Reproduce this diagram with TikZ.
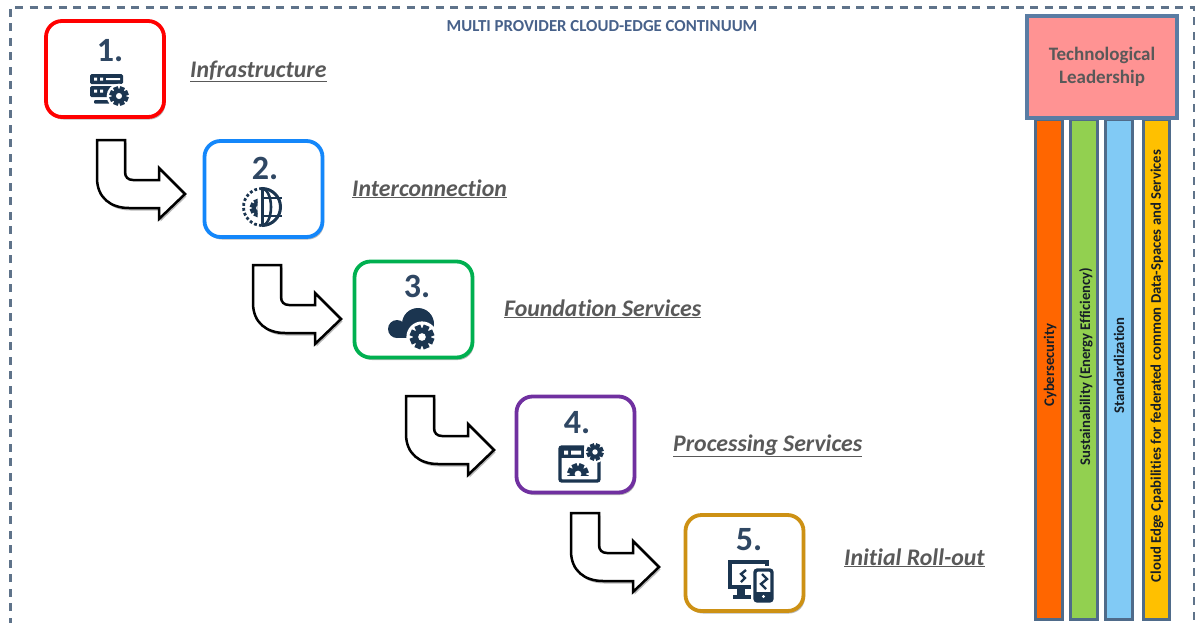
\documentclass[tikz,border=0pt]{standalone}
\usepackage{fontspec}
\setmainfont{Carlito}[Ligatures=NoCommon]
\usetikzlibrary{shadows}
\definecolor{icon}{HTML}{1B3550}
\definecolor{numc}{HTML}{2F4763}
\definecolor{frame}{HTML}{5F738A}
\definecolor{titlec}{HTML}{47618A}
\definecolor{barline}{HTML}{4F6B8A}
\definecolor{leadline}{HTML}{5A7CA3}
\definecolor{labelc}{HTML}{595959}
\definecolor{c1}{HTML}{FF6600}
\definecolor{c2}{HTML}{92D050}
\definecolor{c3}{HTML}{81CAF5}
\definecolor{c4}{HTML}{FFC000}
\definecolor{lead}{HTML}{FF9393}
\definecolor{sred}{HTML}{FF0000}
\definecolor{sblue}{HTML}{1487FA}
\definecolor{sgreen}{HTML}{00B050}
\definecolor{spurple}{HTML}{7030A0}
\definecolor{sgold}{HTML}{CD9114}
\tikzset{
  x=1pt,y=-1pt,
  softshadow/.style={drop shadow={shadow xshift=1.5pt,shadow yshift=-2.5pt,opacity=.28,fill=black}},
  stagebox/.style={draw=#1,line width=3.8pt,rounded corners=16pt,fill=white,softshadow,inner sep=0pt,minimum width=118pt,minimum height=96pt},
  stepnum/.style={font=\fontsize{34}{34}\selectfont\bfseries,text=numc,inner sep=0pt},
  steplabel/.style={font=\fontsize{23.8}{26}\selectfont\bfseries\itshape,text=labelc,anchor=base west,inner sep=0pt},
  bendarrow/.style={draw=black,line width=2.5pt,fill=white,line join=miter,softshadow},
  pillar/.style={draw=barline,line width=3pt,fill=#1,inner sep=0pt,minimum height=500pt,anchor=north,
     drop shadow={shadow xshift=.5pt,shadow yshift=-1pt,opacity=.2,fill=black}},
  pillartext/.style={rotate=90,font=\fontsize{14.7}{15}\selectfont\bfseries,inner sep=0pt,text=black!72!barline},
  bendpic/.pic={
    \path[bendarrow] (0,0) -- (28,0) -- (28,32) .. controls (28,37) and (31,40) .. (36,40)
      -- (62,40) -- (62,28) -- (88,54) -- (62,79) -- (62,68) -- (32,68)
      .. controls (14,68) and (0,58) .. (0,38) -- cycle;
  },
  gearpic/.pic={
    \fill[white] (0,0) circle (1.3);
    \foreach \a in {0,45,...,315}{
      \fill[icon,rotate=\a+22.5] (-.26,-.62) rectangle (.26,-1.02);
    }
    \fill[icon] (0,0) circle (.74);
    \fill[white] (0,0) circle (.32);
  }
}
\begin{document}
\begin{tikzpicture}
\useasboundingbox (0,0) rectangle (1195,622);
% dashed frame
\draw[frame,line width=3pt,dash pattern=on 8pt off 6.5pt] (10,640) -- (10,7) -- (1194,7) -- (1194,640);
\node[font=\fontsize{16.8}{18}\selectfont\bfseries,text=titlec,inner sep=0pt] (title) at (602,26) {MULTI PROVIDER CLOUD-EDGE CONTINUUM};

% pillars
\node[pillar=c1,minimum width=27pt] (b1) at (1048.5,118) {};
\node[pillar=c2,minimum width=27pt] (b2) at (1083.5,118) {};
\node[pillar=c3,minimum width=27pt] (b3) at (1119,118) {};
\node[pillar=c4,minimum width=26pt] (b4) at (1156,118) {};
\node[pillartext] (t1) at (1050,365) {Cybersecurity};
\node[pillartext] (t2) at (1086,366.5) {Sustainability (Energy Efficiency)};
\node[pillartext] (t3) at (1119,365.5) {Standardization};
\node[pillartext] (t4) at (1157,366) {Cloud Edge Cpabilities for federated common Data-Spaces and Services};
\node[draw=leadline,line width=3.2pt,fill=lead,minimum width=150pt,minimum height=102pt,inner sep=0pt,
      align=center,font=\fontsize{19}{23}\selectfont\bfseries,text=labelc] (lead) at (1102,67) {Technological\\Leadership};

% stage boxes
\node[stagebox=sred] (s1) at (105,69) {};
\node[stagebox=sblue] (s2) at (263.5,189) {};
\node[stagebox=sgreen] (s3) at (413.5,309.5) {};
\node[stagebox=spurple] (s4) at (575.5,444.5) {};
\node[stagebox=sgold] (s5) at (744.5,563) {};

\node[stepnum] (n1) at (110,51) {1.};
\node[stepnum] (n2) at (265,168) {2.};
\node[stepnum] (n3) at (417,286) {3.};
\node[stepnum] (n4) at (577,423) {4.};
\node[stepnum] (n5) at (749,540) {5.};

\node[steplabel] (l1) at (190,77) {\underline{Infrastructure}};
\node[steplabel] (l2) at (352,196) {\underline{Interconnection}};
\node[steplabel] (l3) at (504,316) {\underline{Foundation Services}};
\node[steplabel] (l4) at (673,451) {\underline{Processing Services}};
\node[steplabel] (l5) at (844,565) {\underline{Initial Roll-out}};

% bent block arrows
\pic at (97,140) {bendpic};
\pic at (253,265) {bendpic};
\pic at (406,396) {bendpic};
\pic at (571,513) {bendpic};

% icon 1: server with gear
\fill[icon,rounded corners=1.5pt] (90,74) rectangle (123,84);
\fill[white] (94,77.5) rectangle (97,80.5) (100,77.5) rectangle (103,80.5) (106,78) rectangle (120,80);
\fill[icon,rounded corners=1.5pt] (90,86) rectangle (113,97);
\fill[white] (94,89.5) rectangle (97,92.5) (100,89.5) rectangle (103,92.5);
\fill[icon,rounded corners=1pt] (94,100) rectangle (110,103.5);
\pic[scale=9.5] at (119,96) {gearpic};

% icon 2: globe with dashed half and gear
\begin{scope}
\clip (262,186) rectangle (284,229);
\draw[icon,line width=3pt] (262,207) circle (18.5);
\draw[icon,line width=2.6pt] (262,207) ellipse (9 and 18.5);
\draw[icon,line width=2.6pt] (262,198) -- (282,198) (262,216) -- (282,216);
\end{scope}
\draw[icon,line width=3pt] (262,188) -- (262,226);
\draw[icon,line width=2.8pt,dash pattern=on 2.8pt off 2.2pt] (262,188.5) arc[start angle=-90,end angle=-270,radius=18.5];
\begin{scope}
\clip (240,190) rectangle (257.5,224);
\pic[scale=9] at (259,208) {gearpic};
\end{scope}

% icon 3: cloud with gear
\fill[icon] (397,329) circle (9) (418,324) circle (16);
\fill[icon] (397,326) rectangle (420,338);
\pic[scale=12] at (422,337) {gearpic};

% icon 4: window with gears
\draw[icon,line width=3.4pt,rounded corners=2pt] (584,447) -- (560,447) -- (560,481) -- (599,481) -- (599,461);
\fill[icon] (560,447) rectangle (584,458);
\fill[white] (564,450.5) rectangle (568,454.5) (571,450.5) rectangle (581,454.5);
\pic[scale=8.5] at (595,452) {gearpic};
\begin{scope}
\clip (566,462) rectangle (591,475);
\pic[scale=10.5] at (578,474) {gearpic};
\end{scope}

% icon 5: monitor and phone
\draw[icon,line width=4pt] (751,587) -- (730,587) -- (730,562) -- (767,562) -- (767,566);
\fill[icon] (737,588) rectangle (745,596);
\fill[icon] (733,595) rectangle (751,598.5);
\draw[icon,line width=3.4pt,rounded corners=2.5pt,fill=white] (755,570) rectangle (772,601);
\fill[icon] (755,592) rectangle (772,601);
\fill[white] (763.5,596.5) circle (1.6);
\draw[icon,line width=2.4pt] (746,570) -- (741,574) -- (745,578) -- (741,582);
\draw[icon,line width=2.4pt] (762,574) -- (767,579) -- (761,584) -- (766,589);
\end{tikzpicture}
\end{document}
